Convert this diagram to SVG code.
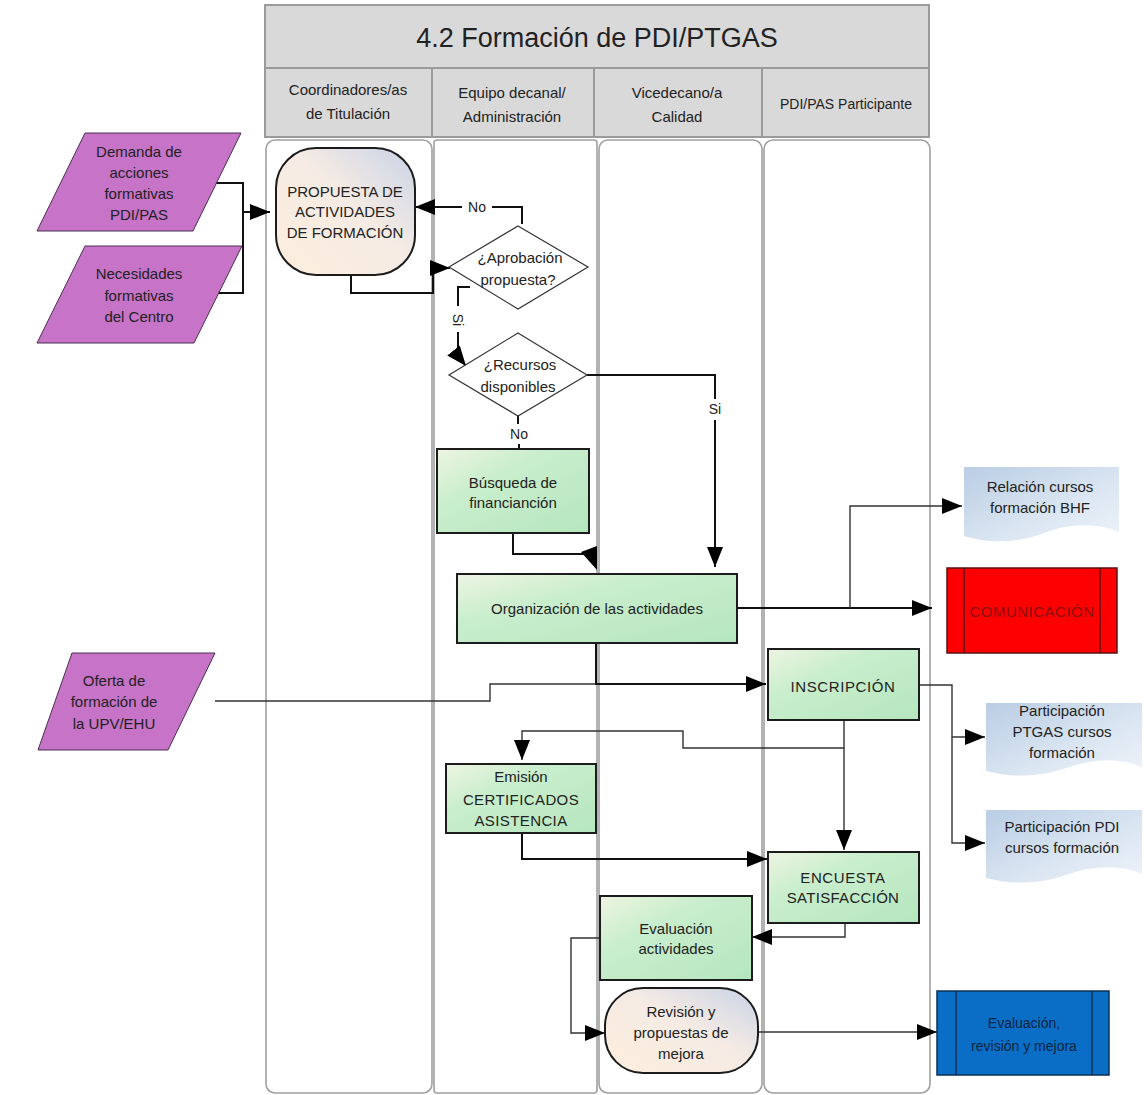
<svg xmlns="http://www.w3.org/2000/svg" width="1144" height="1095" viewBox="0 0 1144 1095">
  <defs>
    <style>
      text { font-family: "Liberation Sans", Arial, sans-serif; fill: #222; }
      .hdr { fill: #d9d9d9; stroke: #9a9a9a; stroke-width: 2; }
      .lane { fill: #fff; stroke: #a0a0a0; stroke-width: 1.6; }
      .io { fill: #c673c8; stroke: #4a3050; stroke-width: 1; }
      .proc { fill: url(#gProc); stroke: #1c1c1c; stroke-width: 2; }
      .term { fill: url(#gTerm); stroke: #1c1c1c; stroke-width: 2; }
      .dec { fill: #fff; stroke: #333; stroke-width: 1.2; }
      .doc { fill: url(#gDoc); stroke: none; }
      .sub-red { fill: #ff0000; stroke: #5a1010; stroke-width: 1.5; }
      .sub-blue { fill: #0a6ec6; stroke: #0d2f55; stroke-width: 1.5; }
      .c { fill: none; stroke: #111; stroke-width: 2; }
      .cthin { fill: none; stroke: #333; stroke-width: 1.4; }
      .arr { marker-end: url(#ah); }
      .t15 { font-size: 15px; text-anchor: middle; }
      .t14 { font-size: 14px; text-anchor: middle; }
    </style>
    <linearGradient id="gProc" x1="0" y1="0" x2="1" y2="1">
      <stop offset="0" stop-color="#eef4e2"/>
      <stop offset="0.35" stop-color="#c9eecd"/>
      <stop offset="1" stop-color="#b5e6be"/>
    </linearGradient>
    <linearGradient id="gTerm" x1="0" y1="1" x2="1" y2="0">
      <stop offset="0" stop-color="#fdeedd"/>
      <stop offset="0.55" stop-color="#f5ebe4"/>
      <stop offset="1" stop-color="#c9d3e6"/>
    </linearGradient>
    <linearGradient id="gDoc" x1="0" y1="0" x2="1" y2="1">
      <stop offset="0" stop-color="#b9cde4"/>
      <stop offset="0.6" stop-color="#dbe6f2"/>
      <stop offset="1" stop-color="#eef3f9"/>
    </linearGradient>
    <marker id="ah" viewBox="0 0 20 16" refX="20" refY="8" markerWidth="20" markerHeight="16" markerUnits="userSpaceOnUse" orient="auto">
      <path d="M0,0 L20,8 L0,16 Z" fill="#000"/>
    </marker>
  </defs>

  <!-- pool header -->
  <g id="header">
    <rect class="hdr" x="265" y="5" width="664" height="63"/>
    <text x="597" y="47" font-size="27" text-anchor="middle">4.2 Formación de PDI/PTGAS</text>
    <rect class="hdr" x="265" y="68" width="167" height="69"/>
    <rect class="hdr" x="432" y="68" width="162" height="69"/>
    <rect class="hdr" x="594" y="68" width="168" height="69"/>
    <rect class="hdr" x="762" y="68" width="167" height="69"/>
    <text class="t15" x="348" y="95" font-size="16">Coordinadores/as</text>
    <text class="t15" x="348" y="119" font-size="16">de Titulación</text>
    <text class="t15" x="512" y="98" font-size="16">Equipo decanal/</text>
    <text class="t15" x="512" y="122" font-size="16">Administración</text>
    <text class="t15" x="677" y="98" font-size="16">Vicedecano/a</text>
    <text class="t15" x="677" y="122" font-size="16">Calidad</text>
    <text class="t14" x="846" y="109">PDI/PAS Participante</text>
  </g>

  <!-- swimlanes -->
  <g id="lanes">
    <rect class="lane" x="266" y="140" width="166" height="953" rx="9"/>
    <rect class="lane" x="434" y="140" width="163" height="953" rx="3"/>
    <rect class="lane" x="599" y="140" width="163" height="953" rx="9"/>
    <rect class="lane" x="764" y="140" width="166" height="953" rx="9"/>
  </g>

  <!-- connectors -->
  <g id="connectors">
    <path class="c" d="M215,183 H243 V293 H215"/>
    <path class="c arr" d="M243,212 H270"/>
    <path class="c" d="M522,224 V207 H492"/>
    <path class="c arr" d="M462,207 H415"/>
    <text x="477" y="212" font-size="14" text-anchor="middle">No</text>
    <path class="c arr" d="M351,276 V293 H433 V268 H450"/>
    <path class="c" d="M470,287 H458 V306"/>
    <text x="0" y="0" font-size="14" text-anchor="middle" transform="translate(453,320) rotate(90)">Si</text>
    <path class="c arr" d="M458,332 V356 L466,366"/>
    <path class="c" d="M587,375 H715 V399"/>
    <text x="715" y="414" font-size="14" text-anchor="middle">Si</text>
    <path class="c arr" d="M715,420 V567"/>
    <path class="c" d="M518,416 V424"/>
    <text x="519" y="439" font-size="14" text-anchor="middle">No</text>
    <path class="c" d="M519,444 V448"/>
    <path class="c" d="M513,533 V554 H587"/>
    <path d="M581,552 L597,546 L597,570 Z" fill="#000"/>
    <path class="c arr" d="M737,608 H932"/>
    <path class="cthin arr" d="M850,608 V506 H962"/>
    <path class="cthin" d="M215,701 H490 V684 H596"/>
    <path class="c arr" d="M596,643 V684 H766"/>
    <path class="cthin arr" d="M919,685 H952 V737 H985"/>
    <path class="cthin arr" d="M952,737 V843 H985"/>
    <path class="cthin arr" d="M844,720 V748 H683 V731 H522 V760"/>
    <path class="cthin arr" d="M844,748 V850"/>
    <path class="c arr" d="M522,833 V859 H767"/>
    <path class="cthin arr" d="M845,923 V937 H752"/>
    <path class="cthin arr" d="M600,938 H571 V1033 H605"/>
    <path class="cthin arr" d="M758,1032 H937"/>
  </g>

  <!-- inputs -->
  <g id="demanda">
    <polygon class="io" points="85,133 241,133 193,231 37,231"/>
    <text class="t15" x="139" y="157">Demanda de</text>
    <text class="t15" x="139" y="178">acciones</text>
    <text class="t15" x="139" y="199">formativas</text>
    <text class="t15" x="139" y="220">PDI/PAS</text>
  </g>
  <g id="necesidades">
    <polygon class="io" points="85,246 242,246 194,343 37,343"/>
    <text class="t15" x="139" y="279">Necesidades</text>
    <text class="t15" x="139" y="301">formativas</text>
    <text class="t15" x="139" y="322">del Centro</text>
  </g>
  <g id="oferta">
    <polygon class="io" points="72,653 215,653 168,750 38,750"/>
    <text class="t15" x="114" y="686">Oferta de</text>
    <text class="t15" x="114" y="707">formación de</text>
    <text class="t15" x="114" y="729">la UPV/EHU</text>
  </g>

  <!-- process nodes -->
  <g id="propuesta">
    <rect class="term" x="276" y="148" width="139" height="127" rx="40"/>
    <text class="t15" x="345" y="197">PROPUESTA DE</text>
    <text class="t15" x="345" y="217">ACTIVIDADES</text>
    <text class="t15" x="345" y="238">DE FORMACIÓN</text>
  </g>
  <g id="aprobacion">
    <polygon class="dec" points="518,226 588,267 518,309 449,267"/>
    <text class="t15" x="520" y="263">¿Aprobación</text>
    <text class="t15" x="518" y="285">propuesta?</text>
  </g>
  <g id="recursos">
    <polygon class="dec" points="518,333 587,375 518,416 449,375"/>
    <text class="t15" x="520" y="370">¿Recursos</text>
    <text class="t15" x="518" y="392">disponibles</text>
  </g>
  <g id="busqueda">
    <rect class="proc" x="437" y="449" width="152" height="84"/>
    <text class="t15" x="513" y="488">Búsqueda de</text>
    <text class="t15" x="513" y="508">financianción</text>
  </g>
  <g id="organizacion">
    <rect class="proc" x="457" y="574" width="280" height="69"/>
    <text class="t15" x="597" y="614">Organización de las actividades</text>
  </g>
  <g id="inscripcion">
    <rect class="proc" x="768" y="649" width="151" height="71"/>
    <text class="t15" x="843" y="692" letter-spacing="0.6">INSCRIPCIÓN</text>
  </g>
  <g id="emision">
    <rect class="proc" x="446" y="764" width="150" height="69"/>
    <text class="t15" x="521" y="782">Emisión</text>
    <text class="t15" x="521" y="805" letter-spacing="0.4">CERTIFICADOS</text>
    <text class="t15" x="521" y="826" letter-spacing="0.4">ASISTENCIA</text>
  </g>
  <g id="encuesta">
    <rect class="proc" x="768" y="852" width="151" height="71"/>
    <text class="t15" x="843" y="883" letter-spacing="0.6">ENCUESTA</text>
    <text class="t15" x="843" y="903" letter-spacing="0.3">SATISFACCIÓN</text>
  </g>
  <g id="evaluacion">
    <rect class="proc" x="600" y="896" width="152" height="84"/>
    <text class="t15" x="676" y="934">Evaluación</text>
    <text class="t15" x="676" y="954">actividades</text>
  </g>
  <g id="revision">
    <rect class="term" x="605" y="988" width="153" height="85" rx="38"/>
    <text class="t15" x="681" y="1017">Revisión y</text>
    <text class="t15" x="681" y="1038">propuestas de</text>
    <text class="t15" x="681" y="1059">mejora</text>
  </g>

  <!-- outputs -->
  <g id="relacion">
    <path class="doc" d="M964,467 H1119 V532 C1095,522 1068,524 1044,533 C1018,543 990,544 964,536 Z"/>
    <text class="t15" x="1040" y="492">Relación cursos</text>
    <text class="t15" x="1040" y="513">formación BHF</text>
  </g>
  <g id="comunicacion">
    <rect class="sub-red" x="947" y="568" width="170" height="85"/>
    <line x1="964" y1="568" x2="964" y2="653" stroke="#5a1010" stroke-width="1.5"/>
    <line x1="1100" y1="568" x2="1100" y2="653" stroke="#5a1010" stroke-width="1.5"/>
    <text class="t15" x="1032" y="617" style="fill:#8a1010" letter-spacing="0.5">COMUNICACIÓN</text>
  </g>
  <g id="part-ptgas">
    <path class="doc" d="M986,703 H1142 V767 C1118,757 1092,759 1066,768 C1040,777 1012,778 986,771 Z"/>
    <text class="t15" x="1062" y="716">Participación</text>
    <text class="t15" x="1062" y="737">PTGAS cursos</text>
    <text class="t15" x="1062" y="758">formación</text>
  </g>
  <g id="part-pdi">
    <path class="doc" d="M986,810 H1142 V874 C1118,864 1092,866 1066,875 C1040,884 1012,885 986,878 Z"/>
    <text class="t15" x="1062" y="832">Participación PDI</text>
    <text class="t15" x="1062" y="853">cursos formación</text>
  </g>
  <g id="eval-revision">
    <rect class="sub-blue" x="937" y="991" width="172" height="84"/>
    <line x1="956" y1="991" x2="956" y2="1075" stroke="#0d2f55" stroke-width="1.5"/>
    <line x1="1092" y1="991" x2="1092" y2="1075" stroke="#0d2f55" stroke-width="1.5"/>
    <text class="t14" x="1024" y="1028" style="fill:#0d2440">Evaluación,</text>
    <text class="t14" x="1024" y="1051" style="fill:#0d2440">revisión y mejora</text>
  </g>
</svg>
